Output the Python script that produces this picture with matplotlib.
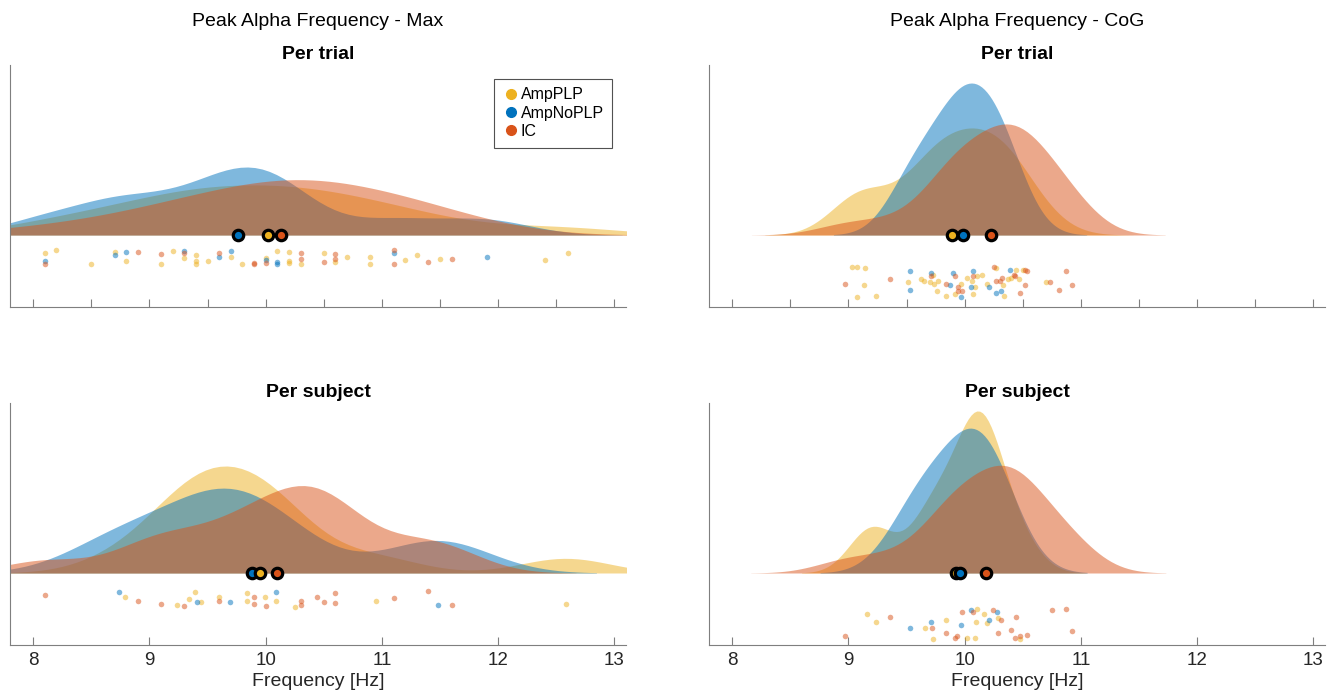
import numpy as np
import matplotlib.pyplot as plt
from matplotlib.lines import Line2D

plt.rcParams['font.family'] = ['Liberation Sans', 'DejaVu Sans']

groups = ['AmpPLP', 'AmpNoPLP', 'IC']
colors = ['#EDB120', '#0072BD', '#D95319']

# --- Peak alpha frequency, Max method, per trial (Hz) + vertical jitter of the rain dots
max_trial_plp = [8.1, 8.2, 8.5, 8.7, 8.8, 9.1, 9.2, 9.3, 9.4, 9.4, 9.4, 9.5, 9.7, 9.8, 10.0,
                 10.1, 10.2, 10.2, 10.2, 10.3, 10.5, 10.6, 10.7, 10.9, 10.9, 11.2, 11.3, 11.5, 12.4, 12.6]
max_trial_plp_jit = [0.27, 0.22, 0.42, 0.25, 0.38, 0.43, 0.24, 0.34, 0.29, 0.38, 0.43, 0.38, 0.32, 0.43, 0.34,
                     0.24, 0.25, 0.38, 0.41, 0.43, 0.27, 0.39, 0.32, 0.33, 0.43, 0.37, 0.30, 0.36, 0.37, 0.27]
max_trial_noplp = [8.1, 8.7, 8.8, 9.3, 9.6, 9.7, 10.0, 10.1, 10.1, 11.1, 11.9]
max_trial_noplp_jit = [0.38, 0.29, 0.25, 0.23, 0.33, 0.24, 0.37, 0.39, 0.43, 0.26, 0.33]
max_trial_ic = [8.1, 8.9, 9.1, 9.3, 9.6, 9.9, 9.9, 10.0, 10.3, 10.3, 10.5, 10.6, 10.6, 11.1, 11.1, 11.4, 11.6]
max_trial_ic_jit = [0.43, 0.25, 0.28, 0.27, 0.27, 0.41, 0.43, 0.41, 0.26, 0.36, 0.39, 0.28, 0.36, 0.22, 0.43, 0.39, 0.36]

# --- CoG method, per trial
cog_trial_plp = [9.03, 9.07, 9.14, 9.13, 9.07, 9.24, 9.51, 9.62, 9.65, 9.73, 9.70, 9.74, 9.77, 9.76, 9.97, 9.92, 9.84,
                 10.02, 10.06, 10.11, 10.15, 10.09, 10.19, 10.07, 10.27, 10.33, 10.34, 10.37, 10.44, 10.40, 10.47, 10.50, 10.70]
cog_trial_plp_jit = [0.21, 0.21, 0.22, 0.33, 0.41, 0.40, 0.31, 0.29, 0.30, 0.26, 0.31, 0.32, 0.30, 0.37, 0.32, 0.39, 0.40,
                     0.28, 0.30, 0.27, 0.26, 0.34, 0.32, 0.39, 0.22, 0.33, 0.40, 0.29, 0.23, 0.28, 0.29, 0.23, 0.31]
cog_trial_noplp = [9.53, 9.53, 9.71, 9.90, 9.87, 9.97, 10.07, 10.05, 10.21, 10.27, 10.31, 10.39]
cog_trial_noplp_jit = [0.24, 0.36, 0.25, 0.25, 0.33, 0.41, 0.24, 0.34, 0.34, 0.38, 0.37, 0.23]
cog_trial_ic = [8.97, 9.36, 9.71, 9.84, 9.92, 9.94, 9.94, 9.98, 10.07, 10.25, 10.27, 10.30, 10.32, 10.42, 10.43,
                10.54, 10.52, 10.52, 10.48, 10.73, 10.81, 10.87, 10.92]
cog_trial_ic_jit = [0.32, 0.29, 0.27, 0.32, 0.27, 0.34, 0.37, 0.37, 0.27, 0.21, 0.30, 0.30, 0.28, 0.26, 0.27,
                    0.24, 0.23, 0.33, 0.38, 0.31, 0.36, 0.24, 0.33]

# --- Max method, per subject
max_subj_plp = [8.79, 9.24, 9.34, 9.39, 9.44, 9.60, 9.84, 9.84, 9.99, 10.09, 10.25, 10.95, 12.58]
max_subj_plp_jit = [0.22, 0.30, 0.24, 0.18, 0.27, 0.22, 0.19, 0.26, 0.22, 0.26, 0.32, 0.26, 0.29]
max_subj_noplp = [8.74, 9.41, 9.69, 10.09, 11.48]
max_subj_noplp_jit = [0.18, 0.27, 0.27, 0.18, 0.30]
max_subj_ic = [8.1, 8.9, 9.1, 9.3, 9.6, 9.9, 9.9, 10.0, 10.3, 10.3, 10.44, 10.6, 10.5, 10.6, 11.1, 11.4, 11.6]
max_subj_ic_jit = [0.21, 0.26, 0.29, 0.31, 0.26, 0.22, 0.29, 0.31, 0.26, 0.30, 0.22, 0.19, 0.27, 0.28, 0.23, 0.17, 0.30]

# --- CoG method, per subject
cog_subj_plp = [9.16, 9.24, 9.66, 9.73, 9.84, 10.11, 10.10, 10.02, 10.09, 10.17, 10.19, 10.29, 10.48]
cog_subj_plp_jit = [0.25, 0.30, 0.34, 0.41, 0.29, 0.22, 0.30, 0.40, 0.40, 0.25, 0.31, 0.28, 0.41]
cog_subj_noplp = [9.53, 9.71, 9.97, 10.05, 10.21, 10.28]
cog_subj_noplp_jit = [0.34, 0.30, 0.32, 0.23, 0.29, 0.24]
cog_subj_ic = [8.97, 9.36, 9.72, 9.84, 9.92, 9.93, 9.98, 10.07, 10.24, 10.31, 10.29, 10.40, 10.44, 10.43,
               10.48, 10.54, 10.75, 10.87, 10.92]
cog_subj_ic_jit = [0.39, 0.27, 0.34, 0.37, 0.40, 0.39, 0.24, 0.24, 0.23, 0.29, 0.37, 0.35, 0.27, 0.40,
                   0.39, 0.38, 0.23, 0.22, 0.36]


def ksdensity(x, npts=100):
    # gaussian kde, same default bandwidth / support as matlab ksdensity
    x = np.asarray(x, dtype=float)
    n = len(x)
    sig = np.median(np.abs(x - np.median(x))) / 0.6745
    bw = sig * (4 / (3 * n)) ** 0.2
    xi = np.linspace(x.min() - 3 * bw, x.max() + 3 * bw, npts)
    f = np.exp(-0.5 * ((xi[:, None] - x[None, :]) / bw) ** 2).sum(1) / (n * bw * np.sqrt(2 * np.pi))
    return xi, f


def raincloud(ax, vals, jits, peak_px, mean_order=(0, 1, 2)):
    dens = [ksdensity(v) for v in vals]
    fmax = max(f.max() for _, f in dens)
    for i in [0, 1, 2]:
        xi, f = dens[i]
        ax.fill_between(xi, 0, f, color=colors[i], alpha=0.5, lw=0)
    for v, j, c in zip(vals, jits, colors):
        ax.scatter(v, -np.asarray(j) * fmax, s=16, color=c, alpha=0.5, lw=0, zorder=3)
    for i in mean_order:
        ax.plot(np.mean(vals[i]), 0, 'o', mfc=colors[i], mec='k', ms=7.5, mew=2.3, zorder=5)
    ax.set_ylim(-72 / peak_px * fmax, 170 / peak_px * fmax)
    ax.set_xlim(7.8, 13.1)
    for s in ['top', 'right']:
        ax.spines[s].set_visible(False)
    for s in ['left', 'bottom']:
        ax.spines[s].set_color('#7f7f7f')
    ax.set_yticks([])
    ax.tick_params(axis='x', direction='in', length=6, color='#7f7f7f', labelsize=13.5,
                   labelcolor='#262626', pad=5)


fig = plt.figure(figsize=(13.31, 6.93), dpi=100)
W, H = 1331, 693
ax_tl = fig.add_axes([10 / W, 1 - 307 / H, 616 / W, 242 / H])
ax_tr = fig.add_axes([709 / W, 1 - 307 / H, 616 / W, 242 / H])
ax_bl = fig.add_axes([10 / W, 1 - 645 / H, 616 / W, 242 / H])
ax_br = fig.add_axes([709 / W, 1 - 645 / H, 616 / W, 242 / H])

raincloud(ax_tl, [max_trial_plp, max_trial_noplp, max_trial_ic],
          [max_trial_plp_jit, max_trial_noplp_jit, max_trial_ic_jit], 68)
raincloud(ax_tr, [cog_trial_plp, cog_trial_noplp, cog_trial_ic],
          [cog_trial_plp_jit, cog_trial_noplp_jit, cog_trial_ic_jit], 152)
raincloud(ax_bl, [max_subj_plp, max_subj_noplp, max_subj_ic],
          [max_subj_plp_jit, max_subj_noplp_jit, max_subj_ic_jit], 107, mean_order=(1, 0, 2))
raincloud(ax_br, [cog_subj_plp, cog_subj_noplp, cog_subj_ic],
          [cog_subj_plp_jit, cog_subj_noplp_jit, cog_subj_ic_jit], 162)

for ax in [ax_tl, ax_tr]:
    ax.set_xticks(np.arange(8, 13.01, 0.5))
    ax.set_xticklabels([])
    ax.set_title('Per trial', fontsize=14, fontweight='bold', pad=4)
for ax in [ax_bl, ax_br]:
    ax.set_xticks(np.arange(8, 14))
    ax.set_title('Per subject', fontsize=14, fontweight='bold', pad=4)
    ax.set_xlabel('Frequency [Hz]', fontsize=14, labelpad=3, color='#262626')

ax_tl.text(0.5, 1 + 43 / 242, 'Peak Alpha Frequency - Max', transform=ax_tl.transAxes,
           ha='center', va='center', fontsize=14)
ax_tr.text(0.5, 1 + 43 / 242, 'Peak Alpha Frequency - CoG', transform=ax_tr.transAxes,
           ha='center', va='center', fontsize=14)

handles = [Line2D([], [], ls='', marker='o', ms=7, mfc=c, mec=c) for c in colors]
leg = ax_tl.legend(handles, groups, loc='upper right', fontsize=11.5, frameon=True, fancybox=False,
                   handletextpad=0.1, handlelength=1.0, borderpad=0.55, borderaxespad=0.85,
                   labelspacing=0.2)
leg.get_frame().set_edgecolor('#262626')
leg.get_frame().set_linewidth(0.8)

fig.savefig('out.png', dpi=100)
